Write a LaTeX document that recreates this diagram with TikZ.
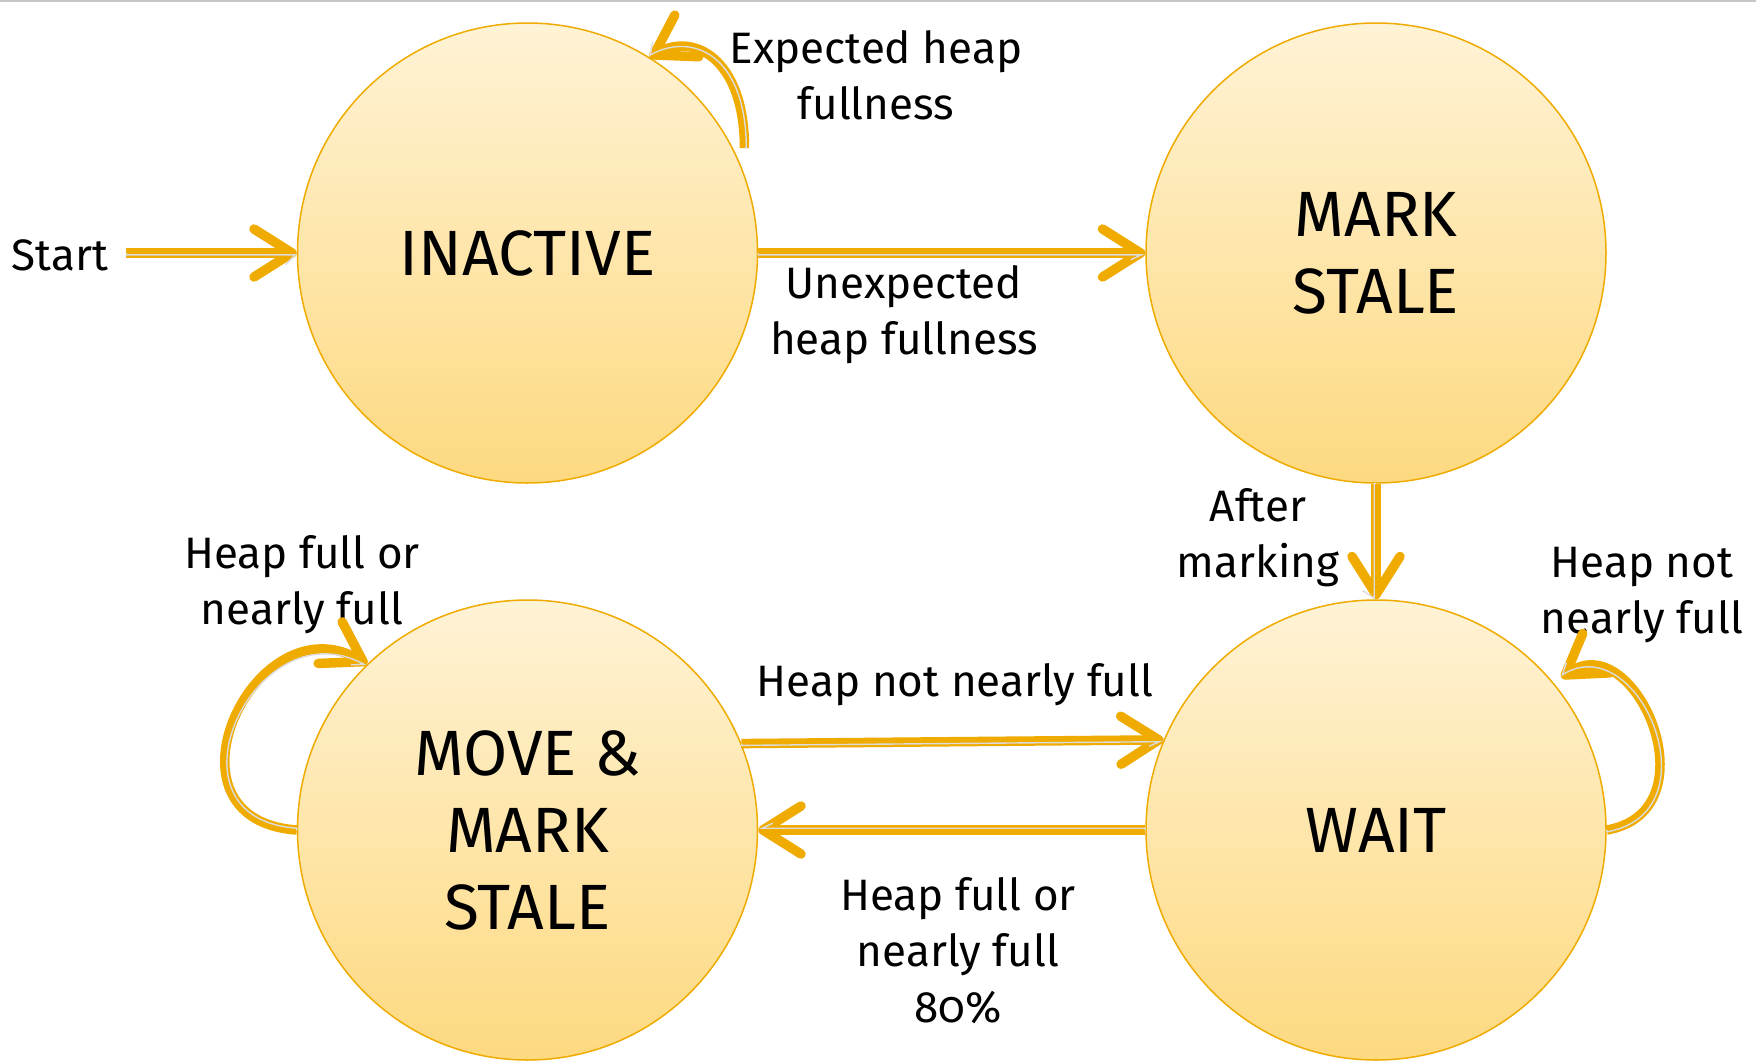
\documentclass[tikz,border=0pt]{standalone}
\usepackage{fontspec}
\setmainfont{Fira Sans}[Numbers=OldStyle]
\usetikzlibrary{arrows.meta,decorations.pathmorphing,calc}

\definecolor{arr}{HTML}{EFAB00}
\definecolor{gapc}{HTML}{DCDCDC}
\definecolor{ftop}{HTML}{FFF3D6}
\definecolor{fbot}{HTML}{FDD980}

\tikzset{
  state/.style={circle, minimum size=460pt, inner sep=0pt, draw=arr, line width=1.5pt,
    top color=ftop, bottom color=fbot, font=\fontsize{64}{77}\selectfont, align=center},
  lbl/.style={font=\fontsize{44}{56}\selectfont, align=center, inner sep=0pt},
  conn/.style={draw=arr, line width=9.5pt,
    -{Straight Barb[length=38pt,width=48pt,line width=9.5pt,round]},
    postaction={draw=gapc, line width=1.4pt, arrows=-, decorate,
      decoration={curveto, raise=-1.8pt}, shorten >=16pt}},
}

\begin{document}
\begin{tikzpicture}[x=1pt,y=1pt]
\useasboundingbox (0,0) rectangle (1756,-1061);
\fill[white] (0,0) rectangle (1756,-1061);
\draw[gray!45, line width=2pt] (0,-1) -- (1756,-1);

% states
\node[state] (ina)  at (527.5,-253) {INACTIVE};
\node[state] (mark) at (1376,-253)  {MARK\\STALE};
\node[state] (move) at (527.5,-830) {MOVE \&\\MARK\\STALE};
\node[state] (wait) at (1376,-830)  {WAIT};

% labels
\node[lbl] (lstart) at (60,-255)   {Start};
\node[lbl] (lexp)   at (876,-75)   {Expected heap\\fullness};
\node[lbl] (lunexp) at (904,-315)  {Unexpected\\heap fullness};
\node[lbl] (lafter) at (1258,-538) {After\\marking};
\node[lbl] (lfull1) at (302,-585)  {Heap full or\\nearly full};
\node[lbl] (lnot1)  at (1642,-595) {Heap not\\nearly full};
\node[lbl] (lnot2)  at (955,-685)  {Heap not nearly full};
\node[lbl] (lfull2) at (958,-951)  {Heap full or\\nearly full\\80\%};

% free ends of the start arrow and of the loops
\coordinate (st)  at ($(lstart.east |- ina.west)+(18,0)$);
\coordinate (tlS) at ($(ina.center)+(25.8:241)$);
\coordinate (rlE) at ($(wait.center)+(39.4:240)$);

% transitions
\draw[conn] (st) -- (ina.west);
\draw[conn] (ina.east) -- (mark.west);
\draw[conn] (mark.south) -- (wait.north);
\draw[conn] (move.22.6) -- (wait.157.4);
\draw[conn] (wait.west) -- (move.east);
\draw[conn] (tlS) .. controls +(90:90) and +(30:50) .. (ina.58.7);
\draw[conn] (move.west) .. controls +(176:146) and +(150:130) .. (move.134.6);
\draw[conn] (wait.east) .. controls +(10:110) and +(35:90) .. (rlE);
\end{tikzpicture}
\end{document}
